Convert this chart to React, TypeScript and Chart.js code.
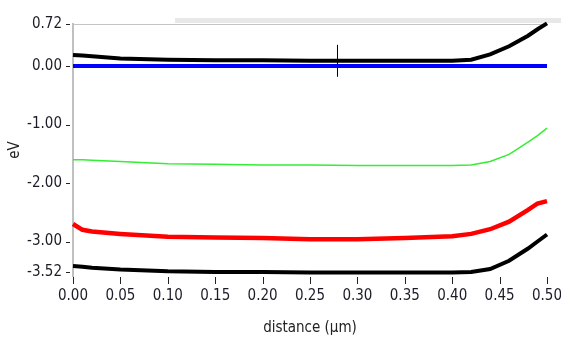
import React, { useEffect, useRef } from "react";
import { Chart, registerables } from "chart.js";

Chart.register(...registerables);

const distance = [0, 0.01, 0.02, 0.05, 0.1, 0.15, 0.2, 0.25, 0.3, 0.35, 0.4, 0.42, 0.44, 0.46, 0.48, 0.49, 0.5];
const conductionBand = [0.19, 0.18, 0.17, 0.13, 0.11, 0.1, 0.1, 0.09, 0.09, 0.09, 0.09, 0.11, 0.2, 0.34, 0.52, 0.63, 0.73];
const fermiLevel = [0, 0, 0, 0, 0, 0, 0, 0, 0, 0, 0, 0, 0, 0, 0, 0, 0];
const greenLevel = [-1.6, -1.6, -1.61, -1.63, -1.67, -1.68, -1.69, -1.69, -1.7, -1.7, -1.7, -1.69, -1.63, -1.51, -1.3, -1.19, -1.06];
const redLevel = [-2.7, -2.8, -2.83, -2.87, -2.92, -2.93, -2.94, -2.96, -2.96, -2.94, -2.91, -2.87, -2.79, -2.66, -2.46, -2.35, -2.31];
const valenceBand = [-3.42, -3.43, -3.45, -3.48, -3.51, -3.52, -3.52, -3.53, -3.53, -3.53, -3.53, -3.52, -3.47, -3.33, -3.12, -3.0, -2.88];
const cursorX = [0.279];
const cursorY = [0.09];
const yTickValues = [0.72, 0, -1, -2, -3, -3.52];
const xTickStep = 0.05;

const FONT = "'Liberation Sans Narrow', 'DejaVu Sans Condensed', 'Arial Narrow', sans-serif";

const toPts = (ys: number[]) => distance.map((x, i) => ({ x, y: ys[i] }));

const zeroPad = () => ({ left: 0, top: 0, right: 0, bottom: 0 });

const framePlugin = {
  id: "frame",
  beforeDraw(chart: any) {
    const { ctx, chartArea } = chart;
    ctx.save();
    ctx.fillStyle = "#e8e8e8";
    ctx.fillRect(175, 18, 386, 5);
    ctx.strokeStyle = "#c4c4c4";
    ctx.lineWidth = 1;
    ctx.beginPath();
    ctx.moveTo(chartArea.left, chartArea.top + 0.5);
    ctx.lineTo(chartArea.right, chartArea.top + 0.5);
    ctx.stroke();
    ctx.restore();
  },
  afterDraw(chart: any) {
    const { ctx, chartArea, scales } = chart;
    ctx.save();
    ctx.strokeStyle = "#222";
    ctx.lineWidth = 1;
    ctx.beginPath();
    scales.x.ticks.forEach((t: any) => {
      const px = Math.round(scales.x.getPixelForValue(t.value)) + 0.5;
      ctx.moveTo(px, chartArea.bottom + 1);
      ctx.lineTo(px, chartArea.bottom + 8);
    });
    scales.y.ticks.forEach((t: any) => {
      const py = Math.round(scales.y.getPixelForValue(t.value)) + 0.5;
      ctx.moveTo(chartArea.left - 7, py);
      ctx.lineTo(chartArea.left - 3, py);
    });
    ctx.stroke();
    ctx.restore();
  },
};

export default function App() {
  const ref = useRef<HTMLCanvasElement>(null);
  useEffect(() => {
    document.body.style.margin = "0";
    const chart = new Chart(ref.current!, {
      type: "line",
      data: {
        datasets: [
          { data: toPts(fermiLevel), borderColor: "#0000ff", borderWidth: 4, pointRadius: 0, clip: false } as any,
          { data: toPts(conductionBand), borderColor: "#000000", borderWidth: 4, pointRadius: 0, clip: false },
          { data: toPts(greenLevel), borderColor: "#33ee33", borderWidth: 1.5, pointRadius: 0, clip: false },
          { data: toPts(redLevel), borderColor: "#ff0000", borderWidth: 4.5, pointRadius: 0, clip: false },
          { data: toPts(valenceBand), borderColor: "#000000", borderWidth: 4, pointRadius: 0, clip: false },
          {
            data: cursorX.map((x, i) => ({ x, y: cursorY[i] })),
            showLine: false,
            pointStyle: "line",
            rotation: 90,
            pointRadius: 16,
            borderColor: "#000",
            borderWidth: 1,
            clip: false,
          } as any,
        ],
      },
      options: {
        responsive: false,
        animation: false,
        layout: { autoPadding: false, padding: { top: 24, right: 14, left: 0, bottom: 0 } },
        plugins: { legend: { display: false }, tooltip: { enabled: false } },
        scales: {
          x: {
            type: "linear",
            min: 0,
            max: 0.5,
            afterBuildTicks: (scale: any) => {
              const t = [];
              for (let i = 0; i <= 10; i++) t.push({ value: Math.round(i * xTickStep * 100) / 100 });
              scale.ticks = t;
            },
            ticks: {
              color: "#1c1c28",
              font: { family: FONT, size: 15 },
              padding: 3,
              maxRotation: 0,
              callback: (v: any) => Number(v).toFixed(2),
            },
            grid: { drawOnChartArea: false, drawTicks: true, tickLength: 8, color: "rgba(0,0,0,0)" },
            border: { display: false },
            title: {
              display: true,
              text: "distance (µm)",
              color: "#222",
              font: { family: FONT, size: 15 },
              padding: { top: 4, bottom: 0 },
            },
            afterFit: (scale: any) => {
              scale.height = 61;
              scale.paddingRight = 0;
              scale.paddingLeft = 0;
              scale.getPadding = zeroPad;
            },
          },
          y: {
            type: "linear",
            min: -3.59,
            max: 0.72,
            afterBuildTicks: (scale: any) => {
              scale.ticks = yTickValues.map((v) => ({ value: v }));
            },
            ticks: {
              color: "#1c1c28",
              font: { family: FONT, size: 15 },
              padding: 3,
              callback: (v: any) => Number(v).toFixed(2),
            },
            grid: { drawOnChartArea: false, drawTicks: true, tickLength: 8, color: "rgba(0,0,0,0)" },
            border: { display: true, color: "#c0c0c0", width: 2 },
            title: {
              display: true,
              text: "eV",
              color: "#222",
              font: { family: FONT, size: 15 },
              padding: { top: 6, bottom: 4 },
            },
            afterFit: (scale: any) => {
              scale.width = 73;
              scale.paddingTop = 0;
              scale.paddingBottom = 0;
              scale.getPadding = zeroPad;
            },
          },
        },
      },
      plugins: [framePlugin],
    } as any);
    return () => chart.destroy();
  }, []);
  return <canvas ref={ref} width={561} height={337} />;
}
